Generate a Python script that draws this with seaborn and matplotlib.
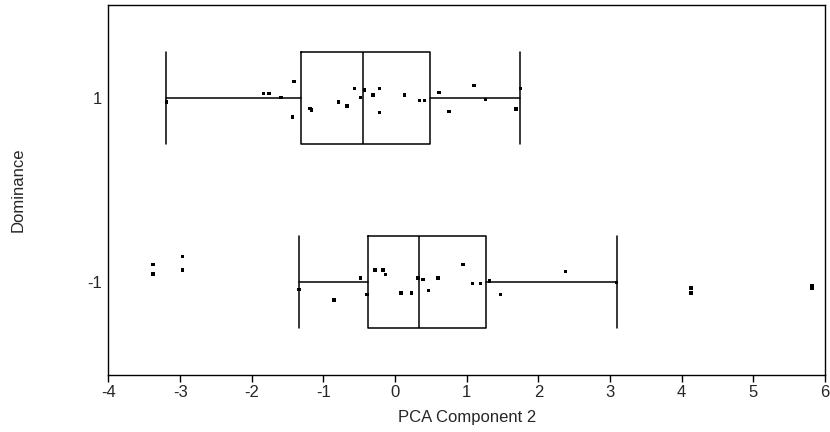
import pandas as pd
import seaborn as sns
import matplotlib.pyplot as plt

# --- data ---
groups = ["1", "-1"]  # top to bottom

# PCA component 2 score of each subject
pc2_pos = [-3.19, -1.84, -1.76, -1.59, -1.41, -1.43, -1.19, -1.17, -0.79, -0.67,
           -0.57, -0.48, -0.43, -0.31, -0.22, -0.22, 0.13, 0.34, 0.41, 0.61,
           0.75, 1.10, 1.26, 1.69, 1.75]
pc2_neg = [-3.38, -3.38, -2.97, -2.97, -1.34, -0.85, -0.48, -0.39, -0.28, -0.17,
           -0.13, 0.08, 0.23, 0.32, 0.39, 0.47, 0.60, 0.95, 1.08, 1.19,
           1.32, 1.47, 2.38, 3.09, 4.13, 4.13, 5.82, 5.82]

# vertical jitter of the dots (category units)
jit_pos = [0.022, -0.023, -0.023, 0.0, -0.088, 0.104, 0.059, 0.066, 0.022, 0.045,
           -0.050, 0.0, -0.043, -0.015, -0.050, 0.081, -0.015, 0.016, 0.016, -0.029,
           0.074, -0.066, 0.009, 0.061, -0.050]
jit_neg = [-0.096, -0.045, -0.141, -0.066, 0.038, 0.097, -0.022, 0.066, -0.066, -0.066,
           -0.043, 0.059, 0.059, -0.022, -0.015, 0.045, -0.022, -0.096, 0.007, 0.007,
           -0.007, 0.066, -0.059, 0.0, 0.031, 0.058, 0.020, 0.031]

# box summaries: whisker low, q1, median, q3, whisker high
box_pos = [-3.20, -1.32, -0.45, 0.49, 1.74]
box_neg = [-1.34, -0.38, 0.33, 1.27, 3.09]

df = pd.DataFrame({
    "pc2": pc2_pos + pc2_neg,
    "group": [groups[0]] * len(pc2_pos) + [groups[1]] * len(pc2_neg),
    "jitter": jit_pos + jit_neg,
})
df["ypos"] = df["group"].map({g: i for i, g in enumerate(groups)}) + df["jitter"]

sns.set_theme(style="ticks")
plt.rcParams["font.family"] = ["Liberation Sans", "DejaVu Sans"]
plt.rcParams["axes.unicode_minus"] = False

fig = plt.figure(figsize=(8.3, 4.32), dpi=100)
ax = fig.add_axes([0.1307, 0.1331, 0.8633, 0.8542])

stats = []
for b in (box_pos, box_neg):
    stats.append(dict(whislo=b[0], q1=b[1], med=b[2], q3=b[3], whishi=b[4], fliers=[]))

line = dict(color="black", linewidth=1.1)
ax.bxp(stats, positions=[0, 1], widths=0.5, capwidths=0.5, orientation="horizontal",
       showfliers=False, manage_ticks=False,
       boxprops=line, whiskerprops=line, capprops=line, medianprops=line)

sns.scatterplot(data=df, x="pc2", y="ypos", marker="s", s=6, color="black",
                edgecolor="none", legend=False, ax=ax, zorder=3)

ax.set_xlim(-4, 6)
ax.set_xticks(range(-4, 7))
ax.set_ylim(1.5, -0.5)
ax.set_yticks([0, 1])
ax.set_yticklabels(groups)

for s in ax.spines.values():
    s.set_color("black")
    s.set_linewidth(1.0)
ax.tick_params(axis="x", length=5, width=1.0, color="black", pad=2.5, labelsize=12)
ax.tick_params(axis="y", length=0, pad=5, labelsize=12)

ax.set_xlabel("PCA Component 2", fontsize=12)
ax.set_ylabel("Dominance", fontsize=12)
ax.xaxis.set_label_coords(0.5, -0.095)
ax.yaxis.set_label_coords(-0.115, 0.5)

fig.savefig("out.png", dpi=100)
